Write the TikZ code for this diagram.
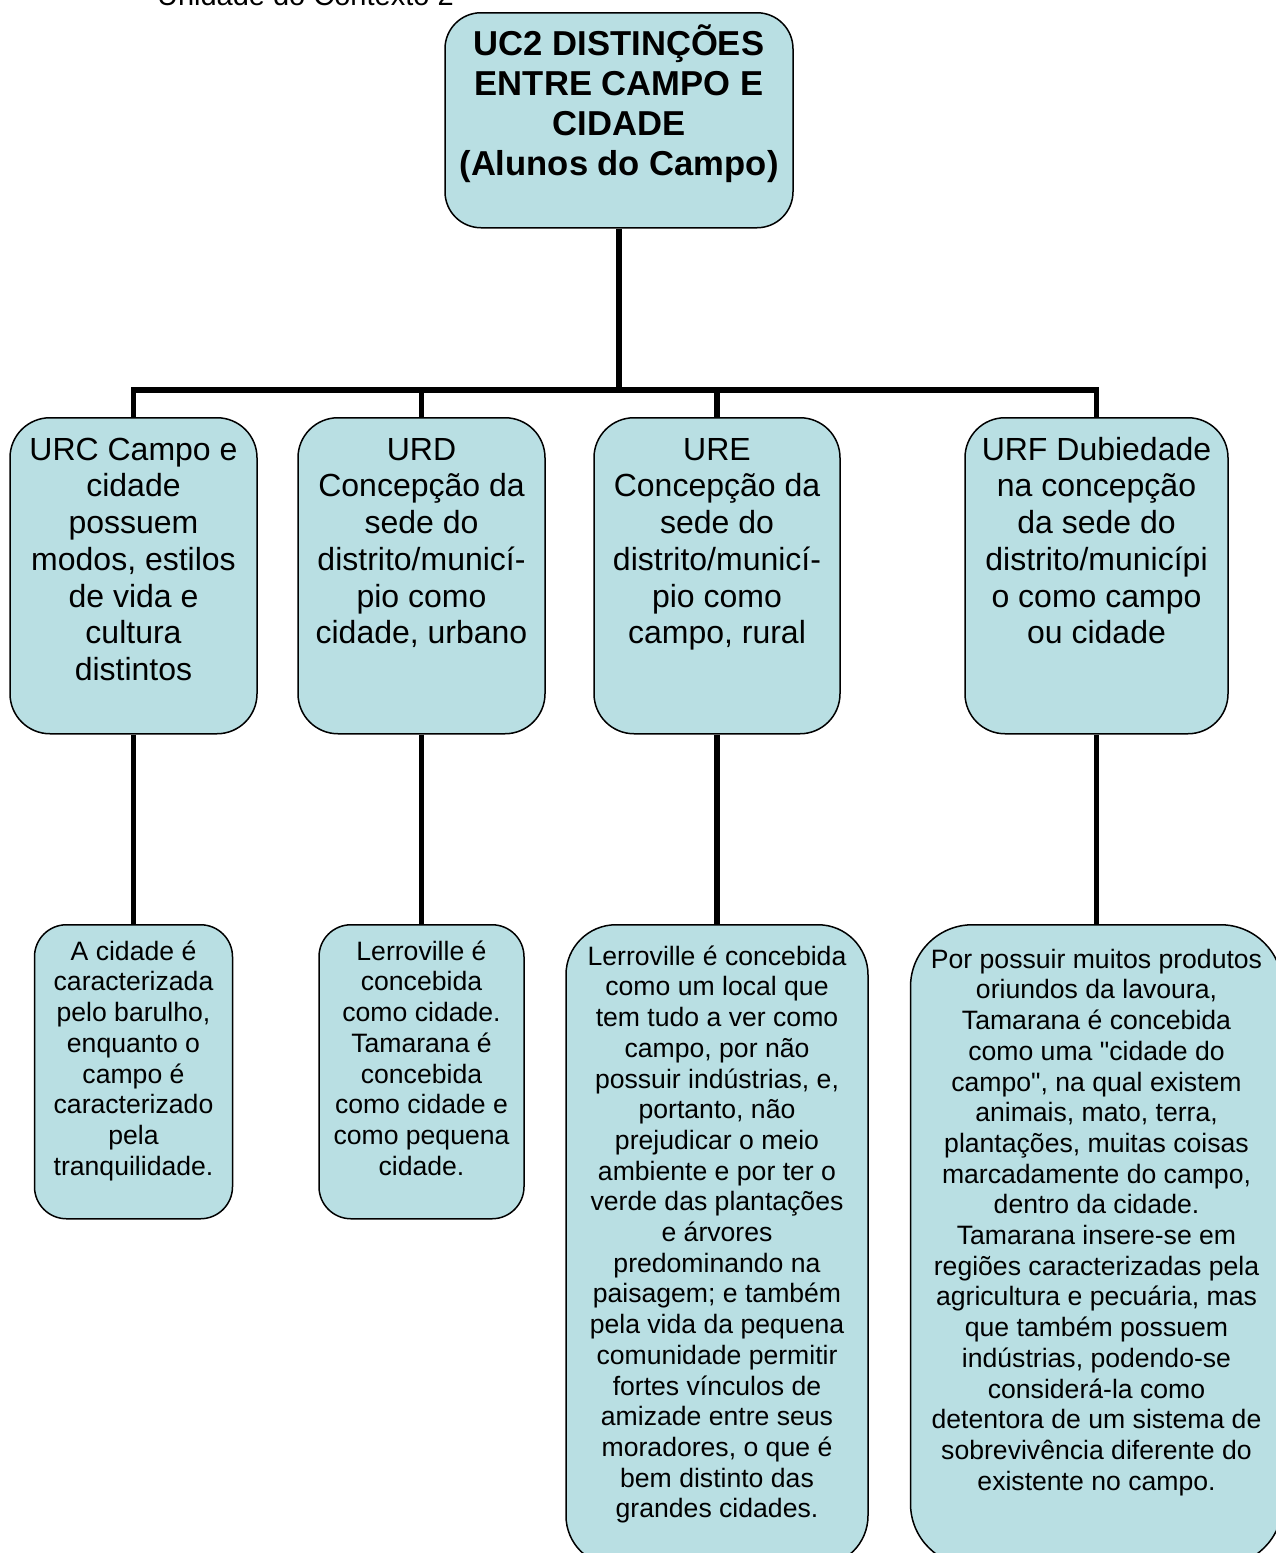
\documentclass[tikz,border=0pt]{standalone}
\usepackage{fontspec}
\setmainfont{Liberation Sans}[Ligatures=TeXOff]

\definecolor{boxfill}{RGB}{185,223,227}
% text of a box: width, height, first baseline, lines
\newcommand{\boxtext}[4]{\parbox[t][#2][t]{#1}{\centering\rule{0pt}{#3}#4}}

\tikzset{
  unit/.style={draw, line width=0.75pt, fill=boxfill, rounded corners=#1, inner sep=0pt, anchor=north},
  link/.style={line width=2.8pt},
  big/.style={font=\fontsize{16}{18.35}\selectfont},
  small/.style={font=\fontsize{13.3}{15.35}\selectfont},
}

\begin{document}
\begin{tikzpicture}[x=0.5pt, y=-0.5pt]
\useasboundingbox (0,0) rectangle (1275,1553);

\node[anchor=base west, font=\fontsize{14.5}{17}\selectfont] (head) at (150,5) {Unidade do Contexto 2};

\node[unit=18pt, font=\fontsize{17.3}{20}\selectfont\bfseries] (uc) at (619,12) {\boxtext{174pt}{107.5pt}{21.5pt}{UC2 DISTINÇÕES\\ENTRE CAMPO E\\CIDADE\\(Alunos do Campo)}};

\node[unit=20pt, big] (urc) at (133.5,417) {\boxtext{123.5pt}{158pt}{21.25pt}{URC Campo e\\cidade\\possuem\\modos, estilos\\de vida e\\cultura\\distintos}};
\node[unit=20pt, big] (urd) at (421.5,417) {\boxtext{123.5pt}{158pt}{21.25pt}{URD\\Concepção da\\sede do\\distrito/municí-\\pio como\\cidade, urbano}};
\node[unit=20pt, big] (ure) at (717,417) {\boxtext{123pt}{158pt}{21.25pt}{URE\\Concepção da\\sede do\\distrito/municí-\\pio como\\campo, rural}};
\node[unit=20pt, big] (urf) at (1096.5,417) {\boxtext{131.5pt}{158pt}{21.25pt}{URF Dubiedade\\na concepção\\da sede do\\distrito/municípi\\o como campo\\ou cidade}};

\node[unit=16pt, small] (urcx) at (133.5,924) {\boxtext{99pt}{147pt}{17.75pt}{A cidade é\\caracterizada\\pelo barulho,\\enquanto o\\campo é\\caracterizado\\pela\\tranquilidade.}};
\node[unit=16pt, small] (urdx) at (421.5,924) {\boxtext{102.5pt}{147pt}{17.75pt}{Lerroville é\\concebida\\como cidade.\\Tamarana é\\concebida\\como cidade e\\como pequena\\cidade.}};
\node[unit=25pt, small] (urex) at (717,924) {\boxtext{151pt}{320.5pt}{20.25pt}{Lerroville é concebida\\como um local que\\tem tudo a ver como\\campo, por não\\possuir indústrias, e,\\portanto, não\\prejudicar o meio\\ambiente e por ter o\\verde das plantações\\e árvores\\predominando na\\paisagem; e também\\pela vida da pequena\\comunidade permitir\\fortes vínculos de\\amizade entre seus\\moradores, o que é\\bem distinto das\\grandes cidades.}};
\node[unit=31pt, small] (urfx) at (1096.5,924) {\boxtext{186pt}{320.5pt}{21.75pt}{Por possuir muitos produtos\\oriundos da lavoura,\\Tamarana é concebida\\como uma "cidade do\\campo", na qual existem\\animais, mato, terra,\\plantações, muitas coisas\\marcadamente do campo,\\dentro da cidade.\\Tamarana insere-se em\\regiões caracterizadas pela\\agricultura e pecuária, mas\\que também possuem\\indústrias, podendo-se\\considerá-la como\\detentora de um sistema de\\sobrevivência diferente do\\existente no campo.}};

\coordinate (bus) at (619,390);
\draw[link] (uc.south) -- (bus);
\draw[link] (urc.north) -- (urc.north |- bus) -- (urf.north |- bus) -- (urf.north);
\draw[link] (urd.north) -- (urd.north |- bus);
\draw[link] (ure.north) -- (ure.north |- bus);
\draw[link] (urc.south) -- (urcx.north);
\draw[link] (urd.south) -- (urdx.north);
\draw[link] (ure.south) -- (urex.north);
\draw[link] (urf.south) -- (urfx.north);
\end{tikzpicture}
\end{document}
